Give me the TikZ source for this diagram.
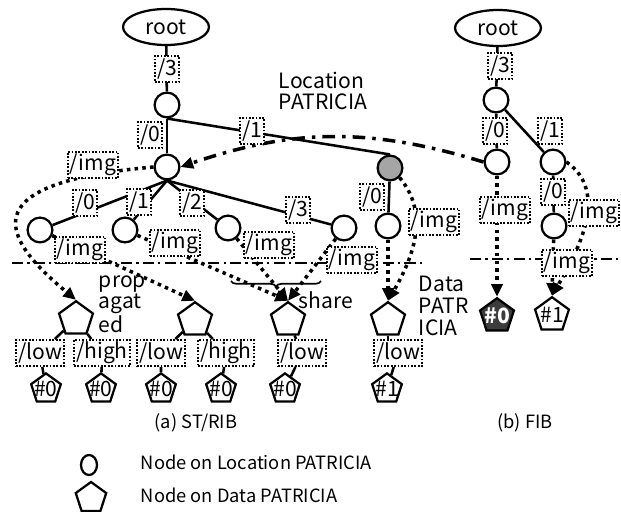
\documentclass[tikz,border=0pt]{standalone}
\usepackage{fontspec}
\setmainfont{Noto Sans CJK JP}
\usetikzlibrary{shapes.geometric, arrows.meta, positioning, calc, decorations.pathreplacing}
\definecolor{grayloc}{RGB}{165,165,165}
\definecolor{darkdata}{RGB}{60,60,60}
\newcommand{\hnum}[1]{\smash{\makebox[0pt]{\raisebox{-5pt}{\##1}}}}

\begin{document}
\begin{tikzpicture}[x=0.025cm, y=-0.025cm, font=\fontsize{15}{15.5}\selectfont,
    loc/.style={circle, draw, line width=1.6pt, minimum size=0.62cm, inner sep=0pt},
    dat/.style={regular polygon, regular polygon sides=5, draw, line width=1.6pt, minimum size=0.89cm, inner sep=0pt},
    leaf/.style={dat, minimum size=0.78cm},
    rootnode/.style={ellipse, draw, line width=1.6pt, minimum width=2.15cm, minimum height=0.9cm, inner sep=0pt},
    lbl/.style={draw, line width=1.1pt, dash pattern=on 1.2pt off 1.2pt, fill=white, inner xsep=1.5pt, inner ysep=0pt, minimum height=0.66cm},
    tree/.style={line width=1.8pt},
    img/.style={line width=2.5pt, dash pattern=on 2.5pt off 3pt, -{Triangle[length=9pt,width=8pt]}},
    ptr/.style={line width=2.5pt, dash pattern=on 9pt off 5pt on 2.5pt off 5pt, -{Triangle[length=9pt,width=8pt]}},
    sep/.style={line width=1pt, dash pattern=on 8pt off 3pt on 1.5pt off 3pt},
    small/.style={font=\fontsize{13}{15}\selectfont}]
    \useasboundingbox (0,0) rectangle (621,512);

    % ST/RIB: Location PATRICIA
    \node[rootnode] (root) at (166,27) {root};
    \node[loc] (l1) at (167,105) {};
    \node[loc] (l2) at (167,167) {};
    \node[loc, fill=grayloc] (g) at (390,168) {};
    \node[loc] (c0) at (40,230) {};
    \node[loc] (c1) at (125,230) {};
    \node[loc] (c2) at (228,228) {};
    \node[loc] (c3) at (344,228) {};
    \node[loc] (g0) at (388,226) {};

    % ST/RIB: Data PATRICIA
    \node[dat] (d0) at (76,319) {};
    \node[dat] (d1) at (195,320) {};
    \node[dat] (d2) at (288,320) {};
    \node[dat] (d3) at (388,320) {};
    \node[leaf] (h0) at (46,389) {\hnum{0}};
    \node[leaf] (h1) at (101,389) {\hnum{0}};
    \node[leaf] (h2) at (161,389) {\hnum{0}};
    \node[leaf] (h3) at (221,389) {\hnum{0}};
    \node[leaf] (h4) at (285,389) {\hnum{0}};
    \node[leaf] (h5) at (387,389) {\hnum{1}};

    % FIB
    \node[rootnode] (froot) at (498,28) {root};
    \node[loc] (f1) at (496,100) {};
    \node[loc] (f2) at (497,162) {};
    \node[loc] (f3) at (553,162) {};
    \node[loc] (f4) at (554,226) {};
    \node[dat, fill=darkdata, text=white, font=\fontsize{15}{15.5}\selectfont\bfseries] (fd0) at (497,316) {\hnum{0}};
    \node[dat] (fd1) at (552,315) {\hnum{1}};

    % tree edges
    \draw[tree] (root) -- (l1);
    \draw[tree] (l1) -- (l2);
    \draw[tree] (l1.south) -- (g.north);
    \foreach \c in {c0,c1,c2,c3} {
        \draw[tree] (l2.south) -- (\c);
    }
    \draw[tree] (g) -- (g0);
    \draw[tree] (froot) -- (f1);
    \draw[tree] (f1) -- (f2);
    \draw[tree] (f1) -- (f3);
    \draw[tree] (f3) -- (f4);

    % separators
    \draw[sep] (12,263) -- (425,263);
    \draw[sep] (470,259) -- (621,259);

    % image pointers
    \draw[img] (l2.west) .. controls +(-170,15) and +(-85,-70) .. (d0.corner 1);
    \draw[img] (c0) -- (d1.corner 1);
    \draw[img] (c1) -- (d2.corner 1);
    \draw[img] (c2) -- (d2.corner 1);
    \draw[img] (c3) -- (d2.corner 1);
    \draw[img] (g.south east) to[out=-50, in=60] (d3.corner 1);
    \draw[img] (g0) -- (d3.corner 1);
    \draw[img] (f2) -- (fd0.corner 1);
    \draw[img] (f3.east) to[out=-35, in=60] (fd1.corner 1);
    \draw[img] (f4) -- (fd1.corner 1);
    \draw[ptr] (f2.west) to[bend right=18] (l2.east);

    % data edges
    \node[lbl] (lo0) at (40,353) {/low};
    \node[lbl] (hi0) at (102,353) {/high};
    \node[lbl] (lo1) at (161,353) {/low};
    \node[lbl] (hi1) at (226,353) {/high};
    \node[lbl] (lo2) at (302,353) {/low};
    \node[lbl] (lo3) at (398,353) {/low};
    \draw[tree] (d0) -- (lo0) -- (h0);
    \draw[tree] (d0) -- (hi0) -- (h1);
    \draw[tree] (d1) -- (lo1) -- (h2);
    \draw[tree] (d1) -- (hi1) -- (h3);
    \draw[tree] (d2) -- (lo2) -- (h4);
    \draw[tree] (d3.south) -- (d3.south |- lo3.north);
    \draw[tree] (lo3) -- (h5);

    % edge labels
    \node[lbl] at (167,69) {/3};
    \node[lbl] at (150,135) {/0};
    \node[lbl] at (252,131) {/1};
    \node[lbl] at (93,165) {/img};
    \node[lbl] at (85,203) {/0};
    \node[lbl] at (139,202) {/1};
    \node[lbl] at (192,203) {/2};
    \node[lbl] at (298,210) {/3};
    \node[lbl] at (80,250) {/img};
    \node[lbl] at (175,243) {/img};
    \node[lbl] at (269,245) {/img};
    \node[lbl] at (352,260) {/img};
    \node[lbl] at (372,197) {/0};
    \node[lbl] at (434,222) {/img};
    \node[lbl] at (500,66) {/3};
    \node[lbl] at (495,131) {/0};
    \node[lbl] at (550,131) {/1};
    \node[lbl] at (505,210) {/img};
    \node[lbl] at (553,192) {/0};
    \node[lbl] at (594,213) {/img};
    \node[lbl] at (567,263) {/img};

    % share brace
    \draw[line width=1.2pt, decorate, decoration={brace, mirror, amplitude=4pt}] (231,281) -- (321,281);

    % texts
    \node[anchor=west, align=left] (loctxt) at (274,91) {Location\\PATRICIA};
    \node[anchor=west, align=left] (proptxt) at (94,304) {prop\\agat\\ed};
    \node[anchor=west] (sharetxt) at (294,300) {share};
    \node[anchor=west, align=left] (datatxt) at (414,306) {Data\\PATR\\ICIA};
    \node[small] (capa) at (196,423) {(a) ST/RIB};
    \node[small] (capb) at (525,423) {(b) FIB};

    % legend
    \node[ellipse, draw, line width=1.6pt, minimum width=0.4cm, minimum height=0.5cm, inner sep=0pt] (keyloc) at (89,465) {};
    \node[regular polygon, regular polygon sides=5, draw, line width=1.6pt, minimum size=0.8cm, inner sep=0pt] (keydat) at (91,498) {};
    \node[small, anchor=west] (keyloctxt) at (136,462) {Node on Location PATRICIA};
    \node[small, anchor=west] (keydattxt) at (136,495) {Node on Data PATRICIA};
\end{tikzpicture}
\end{document}
